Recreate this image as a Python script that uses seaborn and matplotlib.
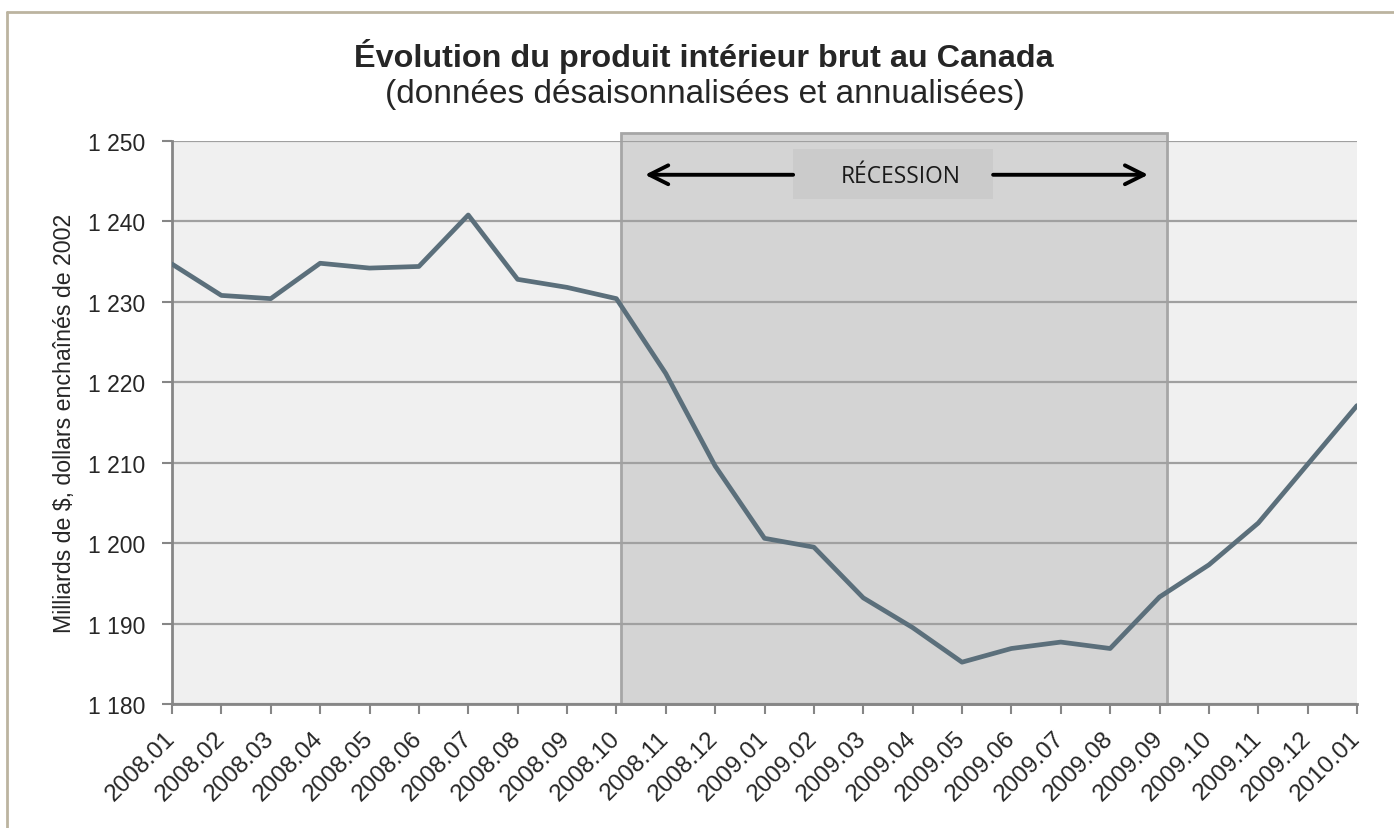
import numpy as np
import pandas as pd
import seaborn as sns
import matplotlib.pyplot as plt
from matplotlib.patches import Rectangle
from matplotlib.lines import Line2D
from matplotlib.ticker import FuncFormatter

months = ['2008.01', '2008.02', '2008.03', '2008.04', '2008.05', '2008.06', '2008.07',
          '2008.08', '2008.09', '2008.10', '2008.11', '2008.12', '2009.01', '2009.02',
          '2009.03', '2009.04', '2009.05', '2009.06', '2009.07', '2009.08', '2009.09',
          '2009.10', '2009.11', '2009.12', '2010.01']
pib = [1234.7, 1230.8, 1230.4, 1234.8, 1234.2, 1234.4, 1240.8,
       1232.8, 1231.8, 1230.4, 1221.1, 1209.6, 1200.6, 1199.5,
       1193.2, 1189.5, 1185.2, 1186.9, 1187.7, 1186.9, 1193.3,
       1197.3, 1202.5, 1209.8, 1217.1]
y_ticks = [1180, 1190, 1200, 1210, 1220, 1230, 1240, 1250]
recession_start = '2008.10'
recession_end = '2009.09'

title = 'Évolution du produit intérieur brut au Canada'
subtitle = '(données désaisonnalisées et annualisées)'
ylabel = 'Milliards de $, dollars enchaînés de 2002'

df = pd.DataFrame({'pos': np.arange(len(months)), 'mois': months, 'pib': pib})

sns.set_style('white')
plt.rcParams['font.family'] = ['Liberation Sans', 'DejaVu Sans']

fig = plt.figure(figsize=(13.94, 8.29), dpi=100)
ax = fig.add_axes([172 / 1394, 1 - 705 / 829, (1357 - 172) / 1394, (705 - 142) / 829])
ax.set_facecolor('#f0f0f0')

# zone de récession
i0 = months.index(recession_start) + 0.09
i1 = months.index(recession_end) + 0.15
ax.add_patch(Rectangle((i0, 1180), i1 - i0, 71, facecolor='#d4d4d4', edgecolor='#a6a6a6',
                       lw=2, zorder=0.3, clip_on=False))

sns.lineplot(data=df, x='pos', y='pib', ax=ax, color='#5b6f7b', lw=3.4, zorder=3)

ax.set_xlim(0, len(months) - 1)
ax.set_ylim(y_ticks[0], y_ticks[-1])
ax.set_yticks(y_ticks)
ax.yaxis.set_major_formatter(FuncFormatter(lambda v, p: f'{int(v):,}'.replace(',', ' ')))
ax.set_xticks(df['pos'])
ax.set_xticklabels(months, rotation=45, ha='right', va='center', rotation_mode='anchor')
ax.tick_params(axis='x', labelsize=17.5, length=7, width=1.5, color='#868686', pad=15)
ax.tick_params(axis='y', labelsize=16.5, length=7, width=1.5, color='#868686', pad=12)
ax.tick_params(bottom=True, left=True)

ax.set_axisbelow(True)
ax.grid(axis='y', color='#a0a0a0', lw=1.6)
ax.grid(axis='x', visible=False)
for s in ['top', 'right']:
    ax.spines[s].set_visible(False)
for s in ['left', 'bottom']:
    ax.spines[s].set_color('#868686')
    ax.spines[s].set_linewidth(2)
    ax.spines[s].set_zorder(2.5)

ax.set_xlabel('')
ax.set_ylabel(ylabel, fontsize=16.7, labelpad=9)

# étiquette RÉCESSION
ax.add_patch(Rectangle((12.58, 1242.8), 4.05, 6.2, facecolor='#cbcbcb', edgecolor='none', zorder=1))
ax.text(14.76, 1245.7, 'RÉCESSION', ha='center', va='center', fontsize=16.4,
        family=['Open Sans', 'DejaVu Sans'], color='#1a1a1a', zorder=4)
arrow = dict(arrowstyle='->', lw=2.8, color='black', mutation_scale=34, shrinkA=0, shrinkB=0)
ax.annotate('', xy=(9.58, 1245.8), xytext=(12.58, 1245.8), arrowprops=arrow, zorder=4)
ax.annotate('', xy=(19.77, 1245.8), xytext=(16.63, 1245.8), arrowprops=arrow, zorder=4)

fig.text(0.505, 1 - 57 / 829, title, ha='center', va='center', fontsize=23.3, fontweight='bold')
fig.text(0.5055, 1 - 94 / 829, subtitle, ha='center', va='center', fontsize=24)

# cadre extérieur
fig.add_artist(Line2D([7 / 1394, 1], [1 - 13 / 829, 1 - 13 / 829], color='#bcb4a0', lw=2))
fig.add_artist(Line2D([7 / 1394, 7 / 1394], [0, 1 - 13 / 829], color='#bcb4a0', lw=2))

fig.savefig('out.png', dpi=100)
plt.close()
